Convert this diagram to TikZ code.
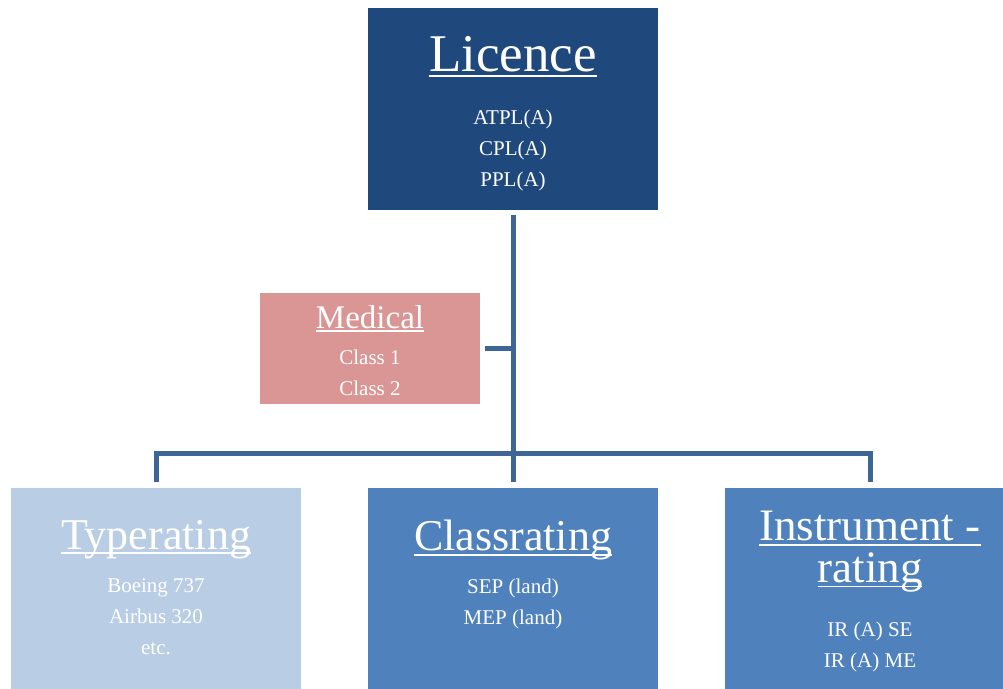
\documentclass[tikz,border=0pt]{standalone}
\usepackage{fontspec}
\setmainfont{Liberation Serif}
\definecolor{licblue}{HTML}{1F497D}
\definecolor{medred}{HTML}{D99694}
\definecolor{typeblue}{HTML}{B9CDE5}
\definecolor{ratblue}{HTML}{4F81BD}
\definecolor{connblue}{HTML}{3D6596}
\newcommand\ulined[1]{\setbox0\hbox{#1}\rlap{\rule[-0.11em]{\wd0}{0.04em}}\box0}
\newcommand\ttl[2]{{\fontsize{#1}{#1}\selectfont\ulined{#2}}}
\tikzset{
  box/.style={minimum width=290, minimum height=210, inner sep=0},
  txt/.style={text=white, align=center, anchor=north, inner sep=0, font=\fontsize{21}{31}\selectfont},
  conn/.style={draw=connblue, line width=5}
}
\begin{document}
\begin{tikzpicture}[x=1pt,y=-1pt]
  \useasboundingbox (0,0) rectangle (1003,688);
  \node[box, fill=licblue, minimum height=202] (0) at (513,109) {};
  \node[box, fill=medred, minimum width=220, minimum height=111] (1) at (370,348.5) {};
  \node[box, fill=typeblue] (2) at (156,593) {};
  \node[box, fill=ratblue] (3) at (513,593) {};
  \node[box, fill=ratblue] (4) at (870,593) {};

  \node[txt] (0t) at (513,36) {\ttl{53}{Licence}\\[22pt]ATPL(A)\\CPL(A)\\PPL(A)};
  \node[txt] (1t) at (370,305) {\ttl{33}{Medical}\\[5pt]Class 1\\Class 2};
  \node[txt] (2t) at (156,520) {\ttl{44}{Typerating}\\[12pt]Boeing 737\\Airbus 320\\etc.};
  \node[txt] (3t) at (513,520) {\ttl{44}{Classrating}\\[12pt]SEP (land)\\MEP (land)};
  \node[txt] (4t) at (870,511) {\ttl{45}{Instrument -}\\[6pt]\ttl{45}{rating}\\[23pt]IR (A) SE\\IR (A) ME};

  \draw[conn, shorten <=5, shorten >=6] (0.south) -- (3.north);
  \draw[conn, shorten <=6, shorten >=6] (2.north) -- ++(0,-34) -| (4.north);
  \draw[conn, shorten <=5] (1.east) -- (0.south |- 1.east);
\end{tikzpicture}
\end{document}
